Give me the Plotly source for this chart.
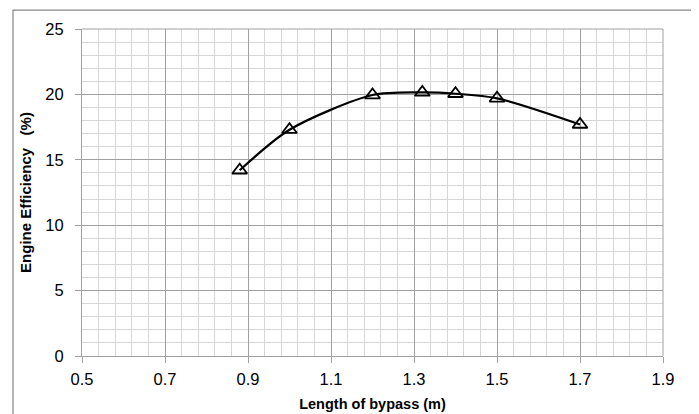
import plotly.graph_objects as go

bypass_length = [0.88, 1.0, 1.2, 1.32, 1.4, 1.5, 1.7]
efficiency = [14.2, 17.3, 19.95, 20.15, 20.05, 19.7, 17.7]

x_ticks = [0.5, 0.7, 0.9, 1.1, 1.3, 1.5, 1.7, 1.9]
y_ticks = [0, 5, 10, 15, 20, 25]

fig = go.Figure()
fig.add_trace(go.Scatter(
    x=bypass_length, y=efficiency, mode="lines+markers",
    line=dict(color="black", width=2.2, shape="spline", smoothing=0.8),
    marker=dict(symbol="triangle-up-open", size=13, color="black", line=dict(width=1.8, color="black")),
    showlegend=False,
))

font_family = "Liberation Sans, Arial, sans-serif"
# page body has an 8px default margin, so offsets are compensated
L, T = 74, 20
fig.update_layout(
    width=699, height=414,
    margin=dict(l=L, r=44, t=T, b=64),
    paper_bgcolor="white", plot_bgcolor="white",
    font=dict(family=font_family, size=16, color="black"),
    xaxis=dict(
        range=[0.5, 1.9], tickvals=x_ticks, ticktext=[f"{v:.1f}" for v in x_ticks],
        showgrid=True, gridcolor="#a0a0a0", gridwidth=1,
        minor=dict(tick0=0.5, dtick=0.04, showgrid=True, gridcolor="#d6d6d6", gridwidth=1),
        ticks="outside", ticklen=6, tickcolor="#a0a0a0",
        showline=True, linecolor="#a0a0a0", mirror=False, zeroline=False,
        ticklabelstandoff=2,
        title=dict(text="<b>Length of bypass (m)</b>", font=dict(size=14.5), standoff=12),
        tickfont=dict(size=16.5),
    ),
    yaxis=dict(
        range=[0, 25], tickvals=y_ticks,
        showgrid=True, gridcolor="#a0a0a0", gridwidth=1,
        minor=dict(tick0=0, dtick=1, showgrid=True, gridcolor="#d6d6d6", gridwidth=1),
        ticks="outside", ticklen=6, tickcolor="#a0a0a0",
        showline=True, linecolor="#a0a0a0", zeroline=False,
        ticklabelstandoff=8,
        title=dict(text="<b>Engine Efficiency&nbsp;&nbsp;&nbsp;(%)</b>", font=dict(size=15), standoff=10),
        tickfont=dict(size=16.5),
    ),
    shapes=[
        dict(type="rect", xref="paper", yref="paper",
             x0=(5 - L) / 581, x1=(687 - L) / 581, y0=-0.3, y1=(350 - 1) / 330,
             line=dict(color="#868686", width=1.2), fillcolor="rgba(0,0,0,0)", layer="below"),
        dict(type="line", xref="paper", yref="paper", x0=1, x1=1, y0=0, y1=1,
             line=dict(color="#a0a0a0", width=1)),
        dict(type="line", xref="paper", yref="paper", x0=0, x1=1, y0=1, y1=1,
             line=dict(color="#a0a0a0", width=1)),
    ],
)

fig.write_html("out.html")
